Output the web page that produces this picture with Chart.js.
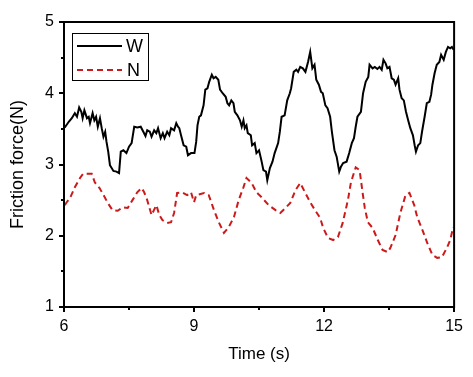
<!DOCTYPE html>
<html>
<head>
<meta charset="utf-8">
<script src="https://cdn.jsdelivr.net/npm/chart.js@4"></script>
<style>
  html, body { margin: 0; padding: 0; background: #fff; }
  #wrap { width: 473px; height: 377px; }
</style>
</head>
<body>
<div id="wrap"><canvas id="chart" width="473" height="377"></canvas></div>
<script>
// Series W (black solid) - time (s) and friction force (N)
const timeW = [6.00, 6.03, 6.11, 6.18, 6.25, 6.30, 6.35, 6.40, 6.43, 6.47, 6.53, 6.57, 6.60, 6.66, 6.70, 6.74, 6.78, 6.83, 6.87, 6.91,
  6.95, 6.98, 7.02, 7.06, 7.14, 7.21, 7.27, 7.31, 7.37, 7.44, 7.50, 7.56, 7.62, 7.69, 7.77, 7.83, 7.88, 7.92, 7.98, 8.02,
  8.08, 8.13, 8.17, 8.23, 8.28, 8.32, 8.38, 8.43, 8.47, 8.54, 8.59, 8.63, 8.66, 8.70, 8.76, 8.82, 8.86, 8.93, 9.01, 9.05,
  9.08, 9.12, 9.16, 9.22, 9.26, 9.31, 9.35, 9.41, 9.45, 9.50, 9.56, 9.60, 9.66, 9.73, 9.77, 9.81, 9.86, 9.91, 9.94, 10.00,
  10.06, 10.10, 10.14, 10.17, 10.21, 10.24, 10.31, 10.34, 10.40, 10.44, 10.50, 10.56, 10.60, 10.66, 10.69, 10.75, 10.81, 10.86, 10.94, 10.98,
  11.02, 11.09, 11.15, 11.21, 11.24, 11.30, 11.36, 11.40, 11.45, 11.51, 11.57, 11.63, 11.68, 11.73, 11.78, 11.82, 11.88, 11.93, 11.97, 12.03,
  12.08, 12.14, 12.18, 12.24, 12.29, 12.35, 12.39, 12.44, 12.52, 12.58, 12.64, 12.69, 12.73, 12.77, 12.85, 12.90, 12.96, 13.02, 13.05, 13.12,
  13.17, 13.23, 13.28, 13.33, 13.37, 13.42, 13.46, 13.51, 13.56, 13.61, 13.65, 13.71, 13.74, 13.79, 13.84, 13.89, 13.94, 13.99, 14.05, 14.09,
  14.12, 14.17, 14.22, 14.26, 14.32, 14.37, 14.43, 14.47, 14.50, 14.55, 14.60, 14.66, 14.70, 14.76, 14.81, 14.86, 14.91, 14.95, 14.99];
const forceW = [3.55, 3.53, 3.60, 3.65, 3.72, 3.67, 3.80, 3.74, 3.65, 3.76, 3.65, 3.67, 3.58, 3.72, 3.62, 3.67, 3.53, 3.65, 3.51, 3.39,
  3.46, 3.32, 3.18, 2.99, 2.91, 2.90, 2.88, 3.18, 3.20, 3.16, 3.25, 3.30, 3.53, 3.52, 3.53, 3.46, 3.40, 3.48, 3.46, 3.39,
  3.48, 3.44, 3.51, 3.37, 3.44, 3.37, 3.46, 3.41, 3.51, 3.48, 3.58, 3.53, 3.51, 3.41, 3.27, 3.25, 3.13, 3.16, 3.16, 3.32,
  3.55, 3.67, 3.69, 3.83, 4.05, 4.07, 4.16, 4.26, 4.21, 4.23, 4.19, 4.05, 4.00, 3.95, 3.86, 3.83, 3.90, 3.86, 3.74, 3.69,
  3.62, 3.53, 3.62, 3.51, 3.55, 3.44, 3.41, 3.27, 3.30, 3.16, 3.20, 3.04, 2.92, 2.90, 2.78, 2.95, 3.04, 3.16, 3.30, 3.46,
  3.67, 3.69, 3.90, 4.00, 4.07, 4.30, 4.33, 4.30, 4.37, 4.35, 4.30, 4.44, 4.58, 4.35, 4.40, 4.19, 4.12, 4.02, 4.00, 3.83,
  3.79, 3.67, 3.46, 3.20, 3.11, 2.90, 2.97, 3.02, 3.04, 3.16, 3.30, 3.37, 3.53, 3.67, 3.74, 4.00, 4.16, 4.23, 4.40, 4.35,
  4.37, 4.34, 4.37, 4.33, 4.47, 4.42, 4.35, 4.37, 4.21, 4.19, 4.12, 4.21, 4.05, 3.93, 3.90, 3.74, 3.62, 3.51, 3.41, 3.27,
  3.18, 3.27, 3.30, 3.46, 3.67, 3.86, 3.88, 3.98, 4.12, 4.28, 4.40, 4.44, 4.54, 4.47, 4.58, 4.65, 4.63, 4.65, 4.61];

// Series N (red dashed)
const timeN = [6.02, 6.05, 6.14, 6.25, 6.37, 6.44, 6.64, 6.71, 6.82, 6.94, 7.01, 7.12, 7.24, 7.35, 7.47, 7.58, 7.69, 7.79, 7.85, 7.92,
  8.02, 8.13, 8.20, 8.27, 8.38, 8.47, 8.54, 8.61, 8.72, 8.84, 8.93, 9.00, 9.05, 9.23, 9.34, 9.46, 9.57, 9.69, 9.80, 9.92,
  10.03, 10.14, 10.21, 10.33, 10.44, 10.56, 10.72, 10.88, 10.99, 11.11, 11.22, 11.34, 11.45, 11.56, 11.68, 11.79, 11.91, 11.98, 12.09, 12.21,
  12.32, 12.43, 12.55, 12.62, 12.73, 12.82, 12.89, 12.94, 13.01, 13.12, 13.24, 13.35, 13.47, 13.53, 13.65, 13.76, 13.88, 13.97, 14.08, 14.15,
  14.27, 14.38, 14.50, 14.61, 14.72, 14.84, 14.91, 14.98];
const forceN = [2.43, 2.46, 2.53, 2.68, 2.81, 2.87, 2.87, 2.75, 2.67, 2.54, 2.46, 2.36, 2.35, 2.40, 2.39, 2.50, 2.61, 2.67, 2.61, 2.50,
  2.29, 2.43, 2.29, 2.22, 2.18, 2.19, 2.32, 2.60, 2.61, 2.57, 2.61, 2.47, 2.57, 2.60, 2.57, 2.36, 2.19, 2.04, 2.12, 2.26,
  2.50, 2.68, 2.81, 2.74, 2.61, 2.54, 2.43, 2.36, 2.32, 2.39, 2.46, 2.64, 2.74, 2.61, 2.47, 2.36, 2.25, 2.11, 1.97, 1.94,
  1.98, 2.18, 2.50, 2.75, 2.96, 2.92, 2.60, 2.39, 2.19, 2.11, 1.94, 1.80, 1.77, 1.83, 2.01, 2.32, 2.57, 2.60, 2.43, 2.26,
  2.08, 1.90, 1.73, 1.69, 1.70, 1.84, 1.94, 2.12];

const xTicks = [6, 9, 12, 15];
const yTicks = [1, 2, 3, 4, 5];
const seriesNames = ['W', 'N'];

const FONT = '"Liberation Sans", Arial, sans-serif';
const RED = '#cc1a1a';

function pairs(xs, ys) {
    return xs.map((x, i) => ({ x: x, y: ys[i] }));
}

// frame, ticks (major + minor) and boxed legend
const framePlugin = {
    id: 'frame',
    afterDraw(chart) {
        const ctx = chart.ctx;
        const a = chart.chartArea;
        const xs = chart.scales.x;
        const ys = chart.scales.y;
        ctx.save();
        ctx.strokeStyle = '#000';
        ctx.lineWidth = 2;
        ctx.strokeRect(a.left, a.top, a.right - a.left, a.bottom - a.top);

        ctx.beginPath();
        for (let v = 6; v <= 15.001; v += 1.5) {
            const px = Math.round(xs.getPixelForValue(v));
            const len = (Math.abs(v % 3) < 0.01) ? 5 : 3;
            ctx.moveTo(px, a.bottom);
            ctx.lineTo(px, a.bottom + len);
        }
        for (let v = 1; v <= 5.001; v += 0.5) {
            const py = Math.round(ys.getPixelForValue(v));
            const len = (Math.abs(v % 1) < 0.01) ? 5 : 3;
            ctx.moveTo(a.left, py);
            ctx.lineTo(a.left - len, py);
        }
        ctx.stroke();

        // legend box
        ctx.lineWidth = 1;
        ctx.strokeRect(72.5, 33.5, 76, 47);
        ctx.lineWidth = 2;
        ctx.beginPath();
        ctx.moveTo(77, 46);
        ctx.lineTo(122, 46);
        ctx.stroke();
        ctx.strokeStyle = RED;
        ctx.setLineDash([6, 4]);
        ctx.beginPath();
        ctx.moveTo(77, 70);
        ctx.lineTo(122, 70);
        ctx.stroke();
        ctx.setLineDash([]);
        ctx.fillStyle = '#000';
        ctx.font = '18px ' + FONT;
        ctx.textBaseline = 'middle';
        ctx.fillText(seriesNames[0], 126, 47);
        ctx.fillText(seriesNames[1], 127, 71);
        ctx.restore();
    }
};

new Chart(document.getElementById('chart'), {
    type: 'line',
    data: {
        datasets: [{
            label: seriesNames[0],
            data: pairs(timeW, forceW),
            borderColor: '#000',
            borderWidth: 2,
            pointRadius: 0,
            tension: 0
        }, {
            label: seriesNames[1],
            data: pairs(timeN, forceN),
            borderColor: RED,
            borderWidth: 2,
            borderDash: [6, 4],
            pointRadius: 0,
            tension: 0
        }]
    },
    options: {
        responsive: false,
        animation: false,
        layout: { padding: { left: 0, top: 22, right: 16, bottom: 0 } },
        plugins: { legend: { display: false }, tooltip: { enabled: false } },
        scales: {
            x: {
                type: 'linear',
                min: 6,
                max: 15,
                afterBuildTicks: s => { s.ticks = xTicks.map(v => ({ value: v })); },
                afterFit: s => { s.height = 70; },
                grid: { display: false, drawTicks: false },
                border: { display: false },
                ticks: { color: '#000', padding: 10, font: { family: FONT, size: 16 } },
                title: {
                    display: true,
                    text: 'Time (s)',
                    color: '#000',
                    font: { family: FONT, size: 17 },
                    padding: { top: 0, bottom: 12 }
                }
            },
            y: {
                min: 1,
                max: 5,
                afterBuildTicks: s => { s.ticks = yTicks.map(v => ({ value: v })); },
                afterFit: s => { s.width = 64; },
                grid: { display: false, drawTicks: false },
                border: { display: false },
                ticks: { color: '#000', padding: 10, font: { family: FONT, size: 16 } },
                title: {
                    display: true,
                    text: 'Friction force(N)',
                    color: '#000',
                    font: { family: FONT, size: 18 },
                    padding: { top: 7, bottom: 0 }
                }
            }
        }
    },
    plugins: [framePlugin]
});
</script>
</body>
</html>
